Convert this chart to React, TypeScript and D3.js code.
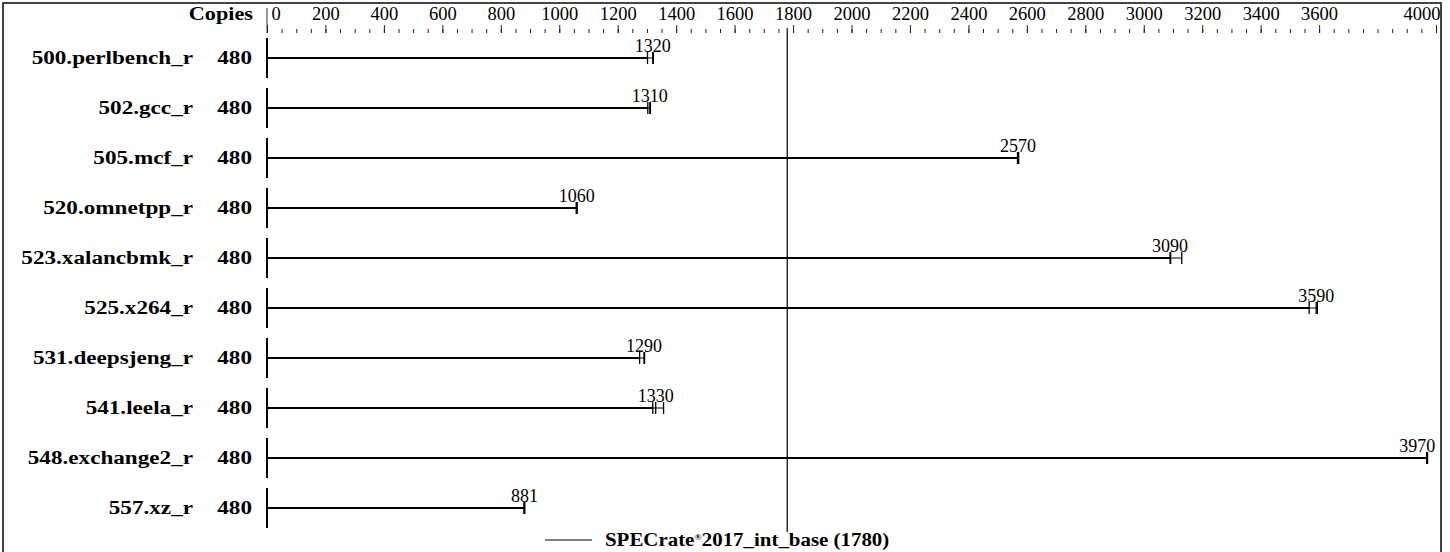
import React, { useEffect, useRef } from "react";
import * as d3 from "d3";

const benchmarks = [
    "500.perlbench_r",
    "502.gcc_r",
    "505.mcf_r",
    "520.omnetpp_r",
    "523.xalancbmk_r",
    "525.x264_r",
    "531.deepsjeng_r",
    "541.leela_r",
    "548.exchange2_r",
    "557.xz_r",
];
const copies = [480, 480, 480, 480, 480, 480, 480, 480, 480, 480];
const medians = [1320, 1310, 2570, 1060, 3090, 3590, 1290, 1330, 3970, 881];
const runs = [
    [1302, 1320, 1322],
    [1303, 1310, 1312],
    [2568, 2570, 2572],
    [1058, 1060, 1061],
    [3090, 3092, 3130],
    [3566, 3590, 3594],
    [1275, 1290, 1292],
    [1320, 1330, 1357],
    [3968, 3970, 3971],
    [879, 881, 882],
];
const baseScore = 1780;
const baseLabel = "2017_int_base (1780)";
const axisLabels = [0, 200, 400, 600, 800, 1000, 1200, 1400, 1600, 1800, 2000, 2200, 2400, 2600, 2800, 3000, 3200, 3400, 3600, 4000];
const minorTicks = d3.range(0, 4001, 50);

const W = 1450;
const H = 552;
const FONT = "'Liberation Serif', 'Times New Roman', serif";

const App: React.FC = () => {
    const svgRef = useRef<SVGSVGElement | null>(null);

    useEffect(() => {
        if (!svgRef.current) return;
        const svg = d3.select(svgRef.current);
        svg.selectAll("*").remove();

        const x = d3.scaleLinear().domain([0, 4000]).range([267, 1436]);
        const y = d3.scalePoint<string>().domain(benchmarks).range([58, 508]);
        const axisY = 33;
        const boldSx = 1.17;

        const boldText = (
            xPos: number,
            yPos: number,
            txt: string,
            anchor: string,
            size = 19.8
        ) =>
            svg
                .append("text")
                .attr("transform", `translate(${xPos},${yPos}) scale(${boldSx},1)`)
                .attr("text-anchor", anchor)
                .attr("font-family", FONT)
                .attr("font-weight", "bold")
                .attr("font-size", size)
                .attr("fill", "#000")
                .text(txt);

        // frame
        svg.append("rect")
            .attr("x", 3)
            .attr("y", 3)
            .attr("width", 1438)
            .attr("height", 560)
            .attr("fill", "none")
            .attr("stroke", "#444")
            .attr("stroke-width", 2);

        // separator next to "Copies"
        svg.append("line")
            .attr("x1", x(0))
            .attr("x2", x(0))
            .attr("y1", 8)
            .attr("y2", axisY)
            .attr("stroke", "#999")
            .attr("stroke-width", 2);

        boldText(253, 20, "Copies", "end", 19);

        // minor ticks
        svg.append("g")
            .attr("transform", `translate(0,${axisY})`)
            .call(d3.axisTop(x).tickValues(minorTicks).tickSize(4).tickFormat(() => ""))
            .call((g) => g.select(".domain").remove())
            .call((g) => g.selectAll(".tick line").attr("stroke", "#222"));

        // major ticks + labels
        svg.append("g")
            .attr("transform", `translate(0,${axisY})`)
            .call(d3.axisTop(x).tickValues(axisLabels).tickSize(8).tickPadding(5).tickFormat(d3.format("d")))
            .call((g) => g.select(".domain").remove())
            .call((g) => g.selectAll(".tick line").attr("stroke", "#222"))
            .call((g) =>
                g
                    .selectAll(".tick text")
                    .attr("font-family", FONT)
                    .attr("font-size", 18.5)
                    .attr("fill", "#000")
                    .attr("dy", "0em")
                    .attr("text-anchor", (d: any) => (d === 0 ? "start" : d === 4000 ? "end" : "middle"))
                    .attr("dx", (d: any) => (d === 0 ? 4 : d === 4000 ? 4 : 0))
            );

        // reference line for the overall score
        svg.append("line")
            .attr("x1", x(baseScore))
            .attr("x2", x(baseScore))
            .attr("y1", 28)
            .attr("y2", 532)
            .attr("stroke", "#000")
            .attr("stroke-width", 1.2);

        benchmarks.forEach((b, i) => {
            const cy = y(b) as number;
            const r = runs[i];
            const lo = d3.min(r) as number;
            const hi = d3.max(r) as number;

            boldText(193, cy + 6, b, "end");
            boldText(252, cy + 6, String(copies[i]), "end");

            // row start tick
            svg.append("line")
                .attr("x1", x(0))
                .attr("x2", x(0))
                .attr("y1", cy - 20)
                .attr("y2", cy + 20)
                .attr("stroke", "#000")
                .attr("stroke-width", 2);

            // bar
            svg.append("line")
                .attr("x1", x(0))
                .attr("x2", x(lo))
                .attr("y1", cy)
                .attr("y2", cy)
                .attr("stroke", "#000")
                .attr("stroke-width", 2);

            // run spread
            svg.append("line")
                .attr("x1", x(lo))
                .attr("x2", x(hi))
                .attr("y1", cy)
                .attr("y2", cy)
                .attr("stroke", "#000")
                .attr("stroke-width", 1);

            svg.append("g")
                .selectAll("line")
                .data(r)
                .join("line")
                .attr("x1", (d) => x(d))
                .attr("x2", (d) => x(d))
                .attr("y1", cy - 6)
                .attr("y2", cy + 6)
                .attr("stroke", "#000")
                .attr("stroke-width", 1.3);

            svg.append("text")
                .attr("x", x(medians[i]))
                .attr("y", cy - 6)
                .attr("text-anchor", medians[i] === 3970 ? "end" : "middle")
                .attr("dx", medians[i] === 3970 ? 8 : 0)
                .attr("font-family", FONT)
                .attr("font-size", 18)
                .attr("fill", "#000")
                .text(String(medians[i]));
        });

        // legend
        svg.append("line")
            .attr("x1", 545)
            .attr("x2", 592)
            .attr("y1", 540)
            .attr("y2", 540)
            .attr("stroke", "#000")
            .attr("stroke-width", 1);

        const leg = svg
            .append("text")
            .attr("transform", `translate(605,546) scale(1.1,1)`)
            .attr("font-family", FONT)
            .attr("font-weight", "bold")
            .attr("font-size", 19)
            .attr("fill", "#000");
        leg.append("tspan").text("SPECrate");
        leg.append("tspan").attr("font-size", 9).attr("dy", -6).text("®");
        leg.append("tspan").attr("dy", 6).text(baseLabel);
    }, []);

    return (
        <div style={{ position: "absolute", left: 0, top: 0 }}>
            <svg ref={svgRef} width={W} height={H} style={{ display: "block", background: "#fff" }}></svg>
        </div>
    );
};

export default App;
